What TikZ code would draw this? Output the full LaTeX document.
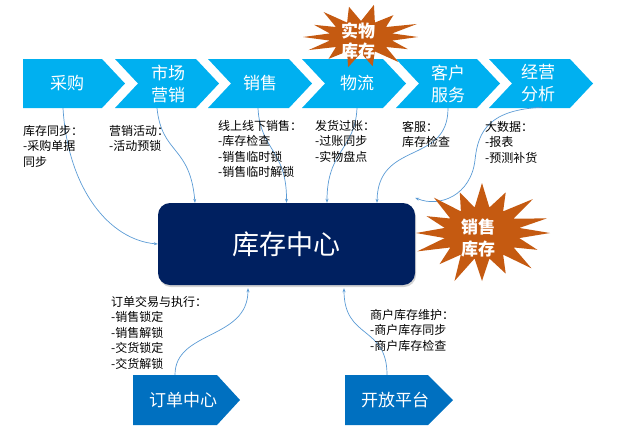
\documentclass[tikz,border=0pt]{standalone}
\usepackage{fontspec}
\setmainfont{Noto Sans CJK SC}
\usetikzlibrary{shadows,arrows.meta}
\definecolor{chevblue}{RGB}{0,176,240}
\definecolor{hubnavy}{RGB}{0,32,96}
\definecolor{botblue}{RGB}{0,112,192}
\definecolor{starorange}{RGB}{197,90,17}
\definecolor{lineblue}{RGB}{91,155,213}
\begin{document}
\begin{tikzpicture}[x=1pt,y=-1pt,
  chevfill/.style={fill=chevblue},
  chevtext/.style={text=white, font=\fontsize{17}{22}\selectfont, align=center, inner sep=0pt, minimum height=49pt},
  bottext/.style={text=white, font=\fontsize{17}{22}\selectfont, inner sep=0pt, minimum height=50pt},
  lbl/.style={anchor=north west, inner sep=0pt, align=left, font=\fontsize{12}{15.5}\selectfont},
  startext/.style={text=white, font=\bfseries\fontsize{17}{20}\selectfont, align=center, inner sep=0pt},
  conn/.style={draw=lineblue, line width=0.7pt, -{Stealth[length=4pt,width=3pt]}},
  hubstyle/.style={fill=hubnavy, rounded corners=12pt, minimum width=257pt, minimum height=82pt, inner sep=0pt,
    text=white, font=\fontsize{27}{30}\selectfont,
    drop shadow={opacity=0.35, shadow xshift=1pt, shadow yshift=-2pt}}
]
\useasboundingbox (0,0) rectangle (643,437);

% top chevrons
\fill[chevfill] (23,59) -- (102,59) -- (125,83.5) -- (102,108) -- (23,108) -- cycle;
\fill[chevfill] (115,59) -- (196,59) -- (219,83.5) -- (196,108) -- (115,108) -- (138,83.5) -- cycle;
\fill[chevfill] (208,59) -- (289,59) -- (312,83.5) -- (289,108) -- (208,108) -- (231,83.5) -- cycle;
\fill[chevfill] (302,59) -- (383,59) -- (406,83.5) -- (383,108) -- (302,108) -- (325,83.5) -- cycle;
\fill[chevfill] (396,59) -- (477,59) -- (500,83.5) -- (477,108) -- (396,108) -- (419,83.5) -- cycle;
\fill[chevfill] (489,59) -- (570,59) -- (593,83.5) -- (570,108) -- (489,108) -- (512,83.5) -- cycle;

\node[chevtext] (c1) at (67,83.5) {采购};
\node[chevtext] (c2) at (168,83.5) {市场\\营销};
\node[chevtext] (c3) at (260,83.5) {销售};
\node[chevtext] (c4) at (357,83.5) {物流};
\node[chevtext] (c5) at (448,83.5) {客户\\服务};
\node[chevtext] (c6) at (538,83.5) {经营\\分析};

% star 1 (实物库存)
\fill[starorange, shift={(361,37)}] (0:57 and 31)
  -- (12.9:32 and 16) -- (25.7:52 and 28)
  -- (38.6:32 and 16) -- (51.4:60 and 32)
  -- (64.3:32 and 16) -- (77.1:52 and 30)
  -- (90:32 and 16) -- (102.9:58 and 31)
  -- (115.7:32 and 16) -- (128.6:52 and 28)
  -- (141.4:32 and 16) -- (154.3:58 and 30)
  -- (167.1:32 and 16) -- (180:58 and 30)
  -- (192.9:32 and 16) -- (205.7:52 and 28)
  -- (218.6:32 and 16) -- (231.4:60 and 32)
  -- (244.3:32 and 16) -- (257.1:54 and 31)
  -- (270:32 and 16) -- (282.9:58 and 33)
  -- (295.7:32 and 16) -- (308.6:52 and 28)
  -- (321.4:32 and 16) -- (334.3:62 and 30)
  -- (347.1:32 and 16) -- cycle;
\node[startext] (st1) at (358,41) {实物\\库存};

% hub and connectors from chevrons
\node[hubstyle] (hub) at (286.5,244) {库存中心};

\draw[conn] ([xshift=-4pt]c1.south) .. controls (68,190) and (110,240) .. (hub.west);
\draw[conn] ([xshift=-11pt]c2.south) .. controls (162,155) and (190,145) .. ([xshift=-91.5pt]hub.north);
\draw[conn] ([xshift=-2pt]c3.south) .. controls (260,150) and (287,150) .. (hub.north);
\draw[conn] (c4.south) .. controls (355,150) and (327,150) .. ([xshift=40.5pt]hub.north);
\draw[conn] (c5.south) .. controls (448,165) and (378,140) .. ([xshift=90.5pt]hub.north);
\draw[conn] ([xshift=4pt,yshift=1pt]c6.south) .. controls (490,110) and (478,130) .. (475,160)
  .. controls (471,195) and (440,208) .. ([yshift=5pt]hub.north east);

% star 2 (销售库存)
\fill[starorange, shift={(482,233)}] (0:68 and 50)
  -- (11.25:38 and 26) -- (22.5:60 and 44)
  -- (33.75:38 and 26) -- (45:70 and 50)
  -- (56.25:38 and 26) -- (67.5:62 and 44)
  -- (78.75:38 and 26) -- (90:66 and 48)
  -- (101.25:38 and 26) -- (112.5:72 and 52)
  -- (123.75:38 and 26) -- (135:60 and 44)
  -- (146.25:38 and 26) -- (157.5:70 and 48)
  -- (168.75:38 and 26) -- (180:66 and 50)
  -- (191.25:38 and 26) -- (202.5:60 and 44)
  -- (213.75:38 and 26) -- (225:68 and 50)
  -- (236.25:38 and 26) -- (247.5:58 and 44)
  -- (258.75:38 and 26) -- (270:70 and 50)
  -- (281.25:38 and 26) -- (292.5:62 and 44)
  -- (303.75:38 and 26) -- (315:72 and 48)
  -- (326.25:38 and 26) -- (337.5:70 and 38)
  -- (348.75:38 and 26) -- cycle;
\node[startext, font=\bfseries\fontsize{17}{22}\selectfont] (st2) at (478,238) {销售\\库存};

% bottom pentagons
\fill[botblue] (133,375) -- (217,375) -- (240,400) -- (217,425) -- (133,425) -- cycle;
\fill[botblue] (345,375) -- (428,375) -- (453,400) -- (428,425) -- (345,425) -- cycle;
\node[bottext] (o1) at (183,400) {订单中心};
\node[bottext] (o2) at (395,400) {开放平台};

\draw[conn] ([xshift=-8pt]o1.north) .. controls (175,330) and (248,340) .. ([xshift=-38.5pt,yshift=-3pt]hub.south);
\draw[conn] ([xshift=-8pt]o2.north) .. controls (387,325) and (344,340) .. ([xshift=57.5pt,yshift=-3pt]hub.south);

% labels
\node[lbl] (l1) at (23,125) {库存同步：\\-采购单据\\同步};
\node[lbl] (l2) at (109,125) {营销活动：\\-活动预锁};
\node[lbl] (l3) at (218,120) {线上线下销售：\\-库存检查\\-销售临时锁\\-销售临时解锁};
\node[lbl] (l4) at (315,120) {发货过账：\\-过账同步\\-实物盘点};
\node[lbl] (l5) at (402,121) {客服：\\库存检查};
\node[lbl] (l6) at (485,121) {大数据：\\-报表\\-预测补货};
\node[lbl] (l7) at (111,296) {订单交易与执行：\\-销售锁定\\-销售解锁\\-交货锁定\\-交货解锁};
\node[lbl] (l8) at (370,309) {商户库存维护：\\-商户库存同步\\-商户库存检查};
\end{tikzpicture}
\end{document}
